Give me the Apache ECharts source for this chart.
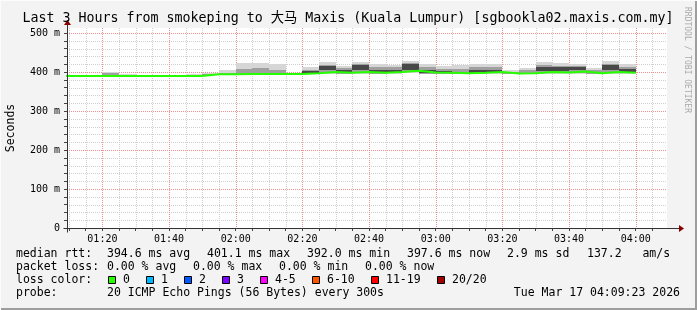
<!DOCTYPE html>
<html><head><meta charset="utf-8">
<script src="https://cdn.jsdelivr.net/npm/echarts@6/dist/echarts.min.js"></script>
<style>html,body{margin:0;padding:0;background:#f3f3f3}#c{width:697px;height:310px}</style>
</head><body><div id="c"></div>
<script>
// ---- data ----
const windowStart = '01:09:23';
const windowEnd = '04:09:23';
const stepEnds = ['01:10','01:15','01:20','01:25','01:30','01:35','01:40','01:45','01:50','01:55',
  '02:00','02:05','02:10','02:15','02:20','02:25','02:30','02:35','02:40','02:45',
  '02:50','02:55','03:00','03:05','03:10','03:15','03:20','03:25','03:30','03:35',
  '03:40','03:45','03:50','03:55','04:00'];
const medianRtt = [390,390,390,390,390,390,390,390,390,394,394,395,395,395,395,397,400,398,400,398,
  400,403,399,398,397,398,400,396,397,400,399,401,397,400,398];
const smokeLow  = [389,389,389,389,389,389,389,389,389,392,392,393,393,393,393,394,395,395,395,395,
  395,397,395,395,394,395,395,394,394,395,395,396,394,395,395];
const smokeHigh = [392,392,393,401,394,393,393,393,395,397,405,422,424,421,398,413,425,416,425,421,
  418,428,420,415,418,420,420,406,410,425,422,420,410,428,420];
const midLow    = [390,390,390,390,390,390,390,390,390,393,393,394,394,394,394,395,397,396,397,396,
  397,400,396,396,395,396,397,395,395,397,397,398,395,397,397];
const midHigh   = [391,391,391,397,391,391,391,391,392,395,398,408,410,406,396,405,418,410,420,412,
  412,422,412,408,408,412,412,400,405,418,415,415,405,420,412];
const coreLow   = [null,null,null,null,null,null,null,null,null,null,null,null,null,null,null,398,405,399,404,399,
  400,406,398,398,null,398,399,null,null,403,402,404,null,404,400];
const coreHigh  = [null,null,null,null,null,null,null,null,null,null,null,null,null,null,null,402,416,405,418,406,
  406,420,405,402,null,405,406,null,null,414,412,414,null,418,408];
const xTickLabels = ['01:20','01:40','02:00','02:20','02:40','03:00','03:20','03:40','04:00'];
const yTickValues = [0,100,200,300,400,500];
const yMax = 512.8;
const titleText = 'Last 3 Hours from smokeping to 大马 Maxis (Kuala Lumpur) [sgbookla02.maxis.com.my]';
const rttStats = ['394.6 ms avg','401.1 ms max','392.0 ms min','397.6 ms now','2.9 ms sd','137.2   am/s'];
const lossStats = ['0.00 % avg','0.00 % max','0.00 % min','0.00 % now'];
const lossLabels = ['0','1','2','3','4-5','6-10','11-19','20/20'];
const lossColors = ['#26ff00','#00b8ff','#0059ff','#7e00ff','#ff00ff','#ff5500','#ff0000','#a00000'];
const probeText = '20 ICMP Echo Pings (56 Bytes) every 300s';
const dateText = 'Tue Mar 17 04:09:23 2026';

// ---- helpers ----
const toMin = s => { const p = s.split(':').map(Number); return p[0]*60 + p[1] + (p[2]||0)/60; };
const fmt = v => { const h = Math.floor(v/60), m = Math.round(v - h*60); return String(h).padStart(2,'0')+':'+String(m).padStart(2,'0'); };
const xMin = toMin(windowStart), xMax = toMin(windowEnd);
const majorX = xTickLabels.map(toMin);
const allX = []; for (let t = Math.ceil(xMin/5)*5; t <= xMax; t += 5) allX.push(t);
const minorX = allX.filter(t => majorX.indexOf(t) < 0);
const allY = []; for (let v = 20; v <= yMax; v += 20) allY.push(v);
const majorY = yTickValues.filter(v => v > 0);
const minorY = allY.filter(v => v % 100 !== 0);
const allYTicks = [0].concat(allY);
const FONT = "'DejaVu Sans Mono', 'Noto Sans CJK SC', monospace";

function vGrid(values, color) {
  return { type:'custom', silent:true, clip:false, z:1, data: values.map(v => [v, 0]), encode:{x:0, y:1},
    renderItem(params, api) {
      const cs = params.coordSys;
      const x = Math.round(api.coord([api.value(0), 0])[0]) + 0.5;
      return { type:'line', shape:{x1:x, y1:cs.y, x2:x, y2:cs.y+cs.height},
        style:{stroke:color, lineWidth:1, lineDash:[1,1]} };
    } };
}
function hGrid(values, color) {
  return { type:'custom', silent:true, clip:false, z:1, data: values.map(v => [xMin, v]), encode:{x:0, y:1},
    renderItem(params, api) {
      const cs = params.coordSys;
      const y = Math.round(api.coord([xMin, api.value(1)])[1]) + 0.5;
      return { type:'line', shape:{x1:cs.x, y1:y, x2:cs.x+cs.width, y2:y},
        style:{stroke:color, lineWidth:1, lineDash:[1,1]} };
    } };
}
function smoke(lo, hi, color, z) {
  const data = [];
  stepEnds.forEach((e, i) => { if (lo[i] != null) data.push([toMin(e)-5, toMin(e), lo[i], hi[i]]); });
  return { type:'custom', silent:true, clip:true, z, data, encode:{x:[0,1], y:[2,3]},
    renderItem(params, api) {
      const p1 = api.coord([api.value(0), api.value(3)]);
      const p2 = api.coord([api.value(1), api.value(2)]);
      const x1 = Math.round(p1[0]), x2 = Math.round(p2[0]);
      const y1 = Math.round(p1[1]), y2 = Math.round(p2[1]);
      const r = echarts.graphic.clipRectByRect({x:x1, y:y1, width:x2-x1, height:Math.max(1, y2-y1)}, params.coordSys);
      return r && { type:'rect', shape:r, style:{fill:color} };
    } };
}

const medianData = stepEnds.map((e, i) => [toMin(e)-5, medianRtt[i]]);
medianData.push([toMin(stepEnds[stepEnds.length-1]), medianRtt[medianRtt.length-1]]);

const chart = echarts.init(document.getElementById('c'));
chart.setOption({
  animation:false,
  backgroundColor:'#f3f3f3',
  grid:{left:67, top:28, width:600, height:200, show:true, backgroundColor:'#ffffff', borderWidth:0,
    containLabel:false, outerBoundsMode:'none'},
  xAxis:{type:'value', min:xMin, max:xMax, axisLine:{show:false}, splitLine:{show:false},
    axisTick:{show:true, customValues:allX, length:3, lineStyle:{color:'#444'}},
    axisLabel:{customValues:majorX, formatter:fmt, fontFamily:FONT, fontSize:10, color:'#000', margin:6}},
  yAxis:{type:'value', min:0, max:yMax, axisLine:{show:false}, splitLine:{show:false},
    axisTick:{show:true, customValues:allYTicks, length:3, lineStyle:{color:'#444'}},
    axisLabel:{customValues:yTickValues, formatter:v => v === 0 ? '0' : v + ' m', fontFamily:FONT, fontSize:10, color:'#000', margin:7},
    name:'Seconds', nameLocation:'middle', nameGap:50, nameRotate:90,
    nameTextStyle:{fontFamily:FONT, fontSize:11.5, color:'#000'}},
  series:[
    vGrid(minorX, '#d0d0d0'), hGrid(minorY, '#d0d0d0'),
    vGrid(majorX, '#f09090'), hGrid(majorY, '#f09090'),
    smoke(smokeLow, smokeHigh, '#d6d6d6', 2),
    smoke(midLow, midHigh, '#a0a0a0', 3),
    smoke(coreLow, coreHigh, '#484848', 4),
    { type:'line', data:medianData, step:'end', showSymbol:false, symbol:'none', clip:true, z:5,
      lineStyle:{color:'#26ff00', width:2}, silent:true }
  ]
});

// decorations: axes with arrows, frame, legend texts
const o = chart.convertToPixel({gridIndex:0}, [xMin, 0]);
const r = chart.convertToPixel({gridIndex:0}, [xMax, yMax]);
const ox = Math.round(o[0]) + 0.5, oy = Math.round(o[1]) + 0.5, rx = Math.round(r[0]), ty = Math.round(r[1]);
const g = [];
g.push({type:'line', z:10, shape:{x1:ox-4, y1:oy, x2:rx+12, y2:oy}, style:{stroke:'#333', lineWidth:1}});
g.push({type:'polygon', z:10, shape:{points:[[rx+12, oy-3.5],[rx+17, oy],[rx+12, oy+3.5]]}, style:{fill:'#8b0000'}});
g.push({type:'line', z:10, shape:{x1:ox, y1:oy+4, x2:ox, y2:ty-3}, style:{stroke:'#333', lineWidth:1}});
g.push({type:'polygon', z:10, shape:{points:[[ox-3.5, ty-3],[ox, ty-8],[ox+3.5, ty-3]]}, style:{fill:'#8b0000'}});
// frame
g.push({type:'rect', z:0, shape:{x:0, y:308, width:697, height:2}, style:{fill:'#9e9e9e'}});
g.push({type:'rect', z:0, shape:{x:695, y:0, width:2, height:310}, style:{fill:'#9e9e9e'}});
g.push({type:'rect', z:0, shape:{x:0, y:0, width:697, height:1}, style:{fill:'#fcfcfc'}});
g.push({type:'rect', z:0, shape:{x:0, y:0, width:1, height:310}, style:{fill:'#fcfcfc'}});

function txt(s, x, y, size, opts) {
  opts = opts || {};
  g.push({type:'text', z:10, rotation:opts.rot || 0, x:x, y:y, style:{text:s, x:0, y:0,
    font: size + 'px ' + FONT, fill: opts.color || '#000',
    align: opts.align || 'left', textAlign: opts.align || 'left', verticalAlign:'middle', textVerticalAlign:'middle'}});
}
txt(titleText, 348, 19, 13.3, {align:'center'});
txt('RRDTOOL / TOBI OETIKER', 687, 60, 8, {align:'center', rot:-Math.PI/2, color:'#aaaaaa'});

const LF = 11.5, cw = 6.92;
const rows = [254, 267, 280, 293];
txt('median rtt:', 16, rows[0], LF);
const rttX = [107, 207, 307, 407, 507, 587];
rttStats.forEach((s, i) => txt(s, rttX[i], rows[0], LF));
txt('packet loss:', 16, rows[1], LF);
lossStats.forEach((s, i) => txt(s, 107 + i*86, rows[1], LF));
txt('loss color:', 16, rows[2], LF);
let bx = 108;
lossLabels.forEach((s, i) => {
  g.push({type:'rect', z:10, shape:{x:bx+0.5, y:rows[2]-3.5, width:7, height:7}, style:{fill:lossColors[i], stroke:'#000', lineWidth:1}});
  txt(s, bx + 15, rows[2], LF);
  bx = bx + 15 + s.length*cw + 16.5;
  bx = Math.round(bx);
});
txt('probe:', 16, rows[3], LF);
txt(probeText, 107, rows[3], LF);
txt(dateText, 680, rows[3], LF, {align:'right'});

chart.setOption({graphic:{elements:g}});
</script></body></html>
